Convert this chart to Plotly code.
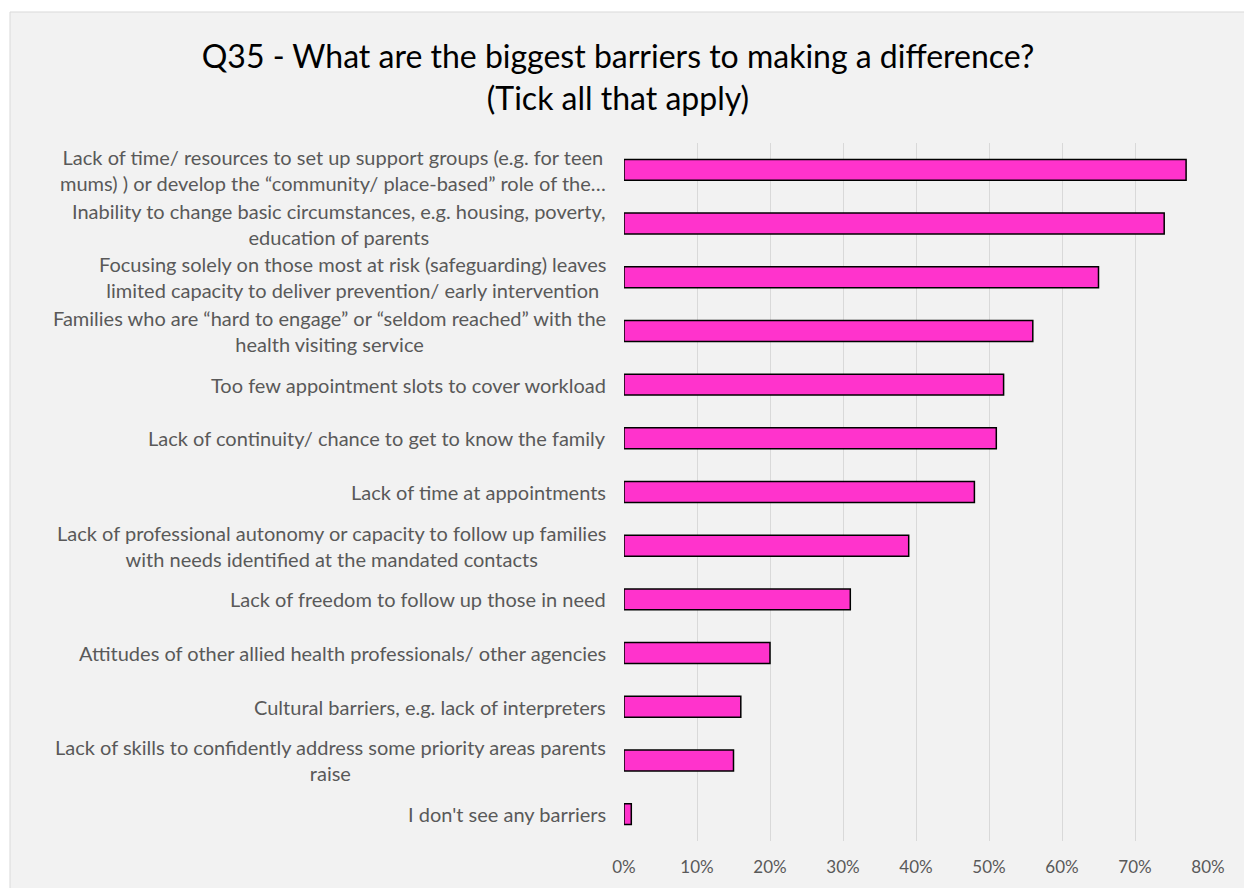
import plotly.graph_objects as go

categories = [
    "Lack of time/ resources to set up support groups (e.g. for teen<br>mums) ) or develop the “community/ place-based” role of the…",
    "Inability to change basic circumstances, e.g. housing, poverty,<br>education of parents",
    "Focusing solely on those most at risk (safeguarding) leaves<br>limited capacity to deliver prevention/ early intervention",
    "Families who are “hard to engage” or “seldom reached” with the<br>health visiting service",
    "Too few appointment slots to cover workload",
    "Lack of continuity/ chance to get to know the family",
    "Lack of time at appointments",
    "Lack of professional autonomy or capacity to follow up families<br>with needs identified at the mandated contacts",
    "Lack of freedom to follow up those in need",
    "Attitudes of other allied health professionals/ other agencies",
    "Cultural barriers, e.g. lack of interpreters",
    "Lack of skills to confidently address some priority areas parents<br>raise",
    "I don't see any barriers",
]
values = [0.77, 0.74, 0.65, 0.56, 0.52, 0.51, 0.48, 0.39, 0.31, 0.20, 0.16, 0.15, 0.01]
tick_vals = [0, 0.1, 0.2, 0.3, 0.4, 0.5, 0.6, 0.7, 0.8]
tick_text = ["0%", "10%", "20%", "30%", "40%", "50%", "60%", "70%", "80%"]
title_text = "Q35 - What are the biggest barriers to making a difference?<br>(Tick all that apply)"

W, H = 1244, 888
ML, MR, MT, MB = 624, 36, 143, 47
FONT = "Lato, Liberation Sans, Arial, sans-serif"

fig = go.Figure(go.Bar(
    x=values, y=list(range(len(categories))), orientation="h",
    marker=dict(color="#ff33cc", line=dict(color="#000000", width=1.5)),
    width=0.39,
))

annotations = []
for i, c in enumerate(categories):
    annotations.append(dict(
        x=0, xref="paper", xshift=-16, y=i, yref="y",
        text=c, showarrow=False, xanchor="right", yanchor="middle", align="center",
        font=dict(family=FONT, size=20, color="#595959"),
    ))

pw = W - ML - MR
ph = H - MT - MB
def px_x(p):
    return (p - ML) / pw
def px_y(p):
    return (H - MB - p) / ph

shapes = [
    dict(type="rect", xref="paper", yref="paper", x0=px_x(0), x1=px_x(10), y0=px_y(H), y1=px_y(0),
         fillcolor="white", line=dict(width=0), layer="below"),
    dict(type="rect", xref="paper", yref="paper", x0=px_x(0), x1=px_x(W), y0=px_y(12), y1=px_y(0),
         fillcolor="white", line=dict(width=0), layer="below"),
    dict(type="line", xref="paper", yref="paper", x0=px_x(10), x1=px_x(W), y0=px_y(12), y1=px_y(12),
         line=dict(color="#d9d9d9", width=1), layer="below"),
    dict(type="line", xref="paper", yref="paper", x0=px_x(10), x1=px_x(10), y0=px_y(12), y1=px_y(H),
         line=dict(color="#d9d9d9", width=1), layer="below"),
]

fig.update_layout(
    width=W, height=H,
    margin=dict(l=ML, r=MR, t=MT, b=MB),
    paper_bgcolor="#f2f2f2", plot_bgcolor="#f2f2f2",
    showlegend=False,
    title=dict(text=title_text, x=618 / W, xanchor="center", y=1 - 68 / H, yanchor="middle",
               font=dict(family=FONT, size=32, color="#000000")),
    xaxis=dict(range=[0, 0.8], tickvals=tick_vals, ticktext=tick_text,
               showgrid=True, gridcolor="#d9d9d9", gridwidth=1, zeroline=False,
               showline=False, ticks="", ticklabelstandoff=14,
               tickfont=dict(family=FONT, size=17, color="#595959")),
    yaxis=dict(range=[len(categories) - 0.5, -0.5], showticklabels=False, showgrid=False,
               zeroline=False, showline=False, ticks=""),
    annotations=annotations,
    shapes=shapes,
)

fig.write_html("out.html", config={"displayModeBar": False},
               post_script="document.body.style.margin='0px';")
